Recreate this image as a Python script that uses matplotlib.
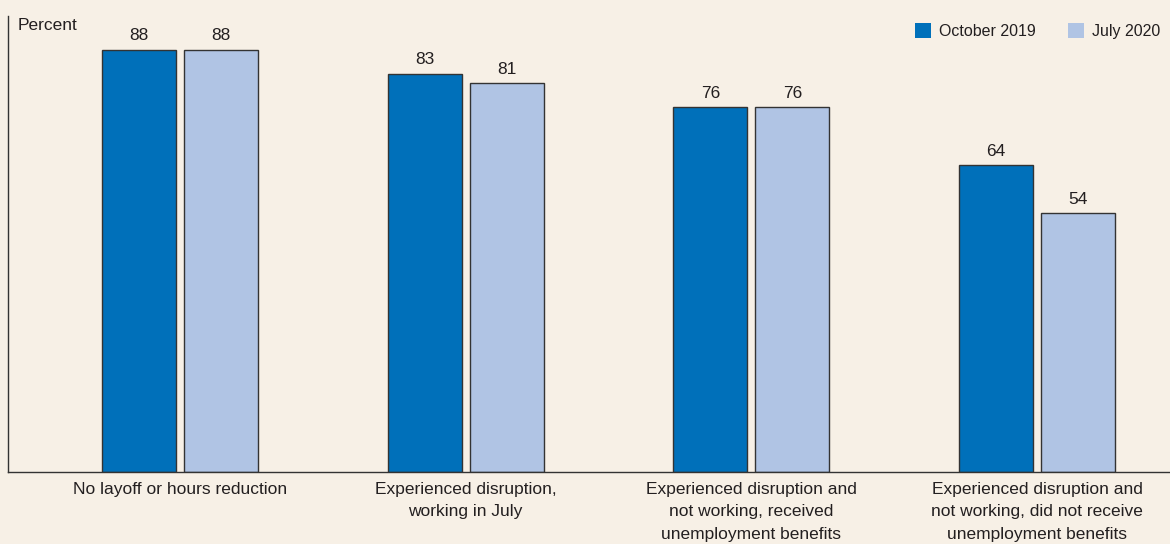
import matplotlib
matplotlib.use("Agg")
import matplotlib.pyplot as plt
import numpy as np
from matplotlib.patches import Patch

plt.rcParams['font.family'] = ['Liberation Sans Narrow', 'Liberation Sans', 'DejaVu Sans']

categories = ["No layoff or hours reduction",
              "Experienced disruption,\nworking in July",
              "Experienced disruption and\nnot working, received\nunemployment benefits",
              "Experienced disruption and\nnot working, did not receive\nunemployment benefits"]
oct_2019 = [88, 83, 76, 64]
jul_2020 = [88, 81, 76, 54]
series_names = ["October 2019", "July 2020"]

bg = "#f7f0e6"
dark = "#0070ba"
light = "#b0c4e4"
edge = "#333333"
txt = "#231f20"

fig = plt.figure(figsize=(11.7, 5.44), dpi=100, facecolor=bg)
ax = fig.add_axes([8/1170, 72/544, 1162/1170, 456/544], facecolor=bg)

x = np.arange(len(categories))
w = 0.259
off = 0.1435
b1 = ax.bar(x - off, oct_2019, w, color=dark, edgecolor=edge, linewidth=1)
b2 = ax.bar(x + off, jul_2020, w, color=light, edgecolor=edge, linewidth=1)

for bars in (b1, b2):
    for r in bars:
        ax.text(r.get_x() + r.get_width()/2, r.get_height() + 1.3, f"{r.get_height():.0f}",
                ha="center", va="bottom", fontsize=12.5, color=txt)

ax.set_xlim(-0.602, 3.465)
ax.set_ylim(0, 95)
ax.set_xticks(x)
ax.set_xticklabels(categories, fontsize=12.5, color=txt, linespacing=1.62)
ax.tick_params(axis="x", length=0, pad=7)
ax.set_yticks([])
for s in ["top", "right"]:
    ax.spines[s].set_visible(False)
for s in ["left", "bottom"]:
    ax.spines[s].set_color(edge)
    ax.spines[s].set_linewidth(1)

ax.text(0.008, 0.995, "Percent", transform=ax.transAxes, ha="left", va="top",
        fontsize=12.5, color=txt)

handles = [Patch(facecolor=dark, edgecolor="none"), Patch(facecolor=light, edgecolor="none")]
ax.legend(handles, series_names, loc="upper right", bbox_to_anchor=(0.9995, 1.005), ncol=2,
          frameon=False, fontsize=11.5, handlelength=1.0, handleheight=1.0,
          handletextpad=0.5, columnspacing=2.0, borderaxespad=0.2, labelcolor=txt)

fig.savefig("out.png", dpi=100, facecolor=bg)
